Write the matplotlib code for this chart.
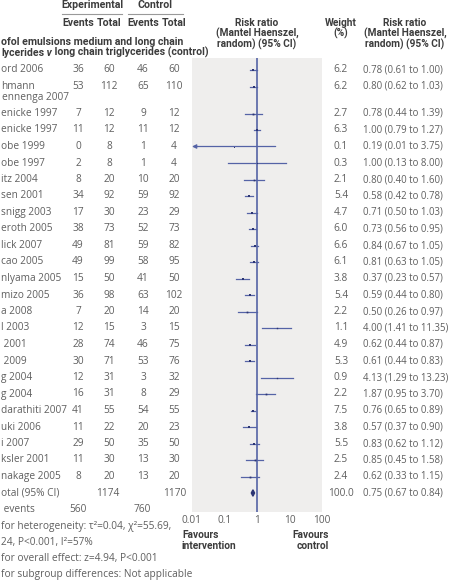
'''Forest plot: propofol emulsions MCT/LCT vs LCT, risk ratio per study.'''
import matplotlib.pyplot as plt
from matplotlib.text import Annotation
import numpy as np

plt.rcParams.update({'font.family': ['Open Sans', 'DejaVu Sans']})
plt.rcParams.update({'font.size': 7.3})

# study labels as visible (left edge of the figure cuts them off)
studies = ['ord 2006', 'hmann\nennenga 2007', 'enicke 1997', 'enicke 1997',
           'obe 1999', 'obe 1997', 'itz 2004', 'sen 2001', 'snigg 2003',
           'eroth 2005', 'lick 2007', 'cao 2005', 'nlyama 2005', 'mizo 2005',
           'a 2008', 'l 2003', ' 2001', ' 2009', 'g 2004', 'g 2004',
           'darathiti 2007', 'uki 2006', 'i 2007', 'ksler 2001', 'nakage 2005']
exp_events = [36, 53, 7, 11, 0, 2, 8, 34, 17, 38, 49, 49, 15, 36, 7, 12, 28,
              30, 12, 16, 41, 11, 29, 11, 8]
exp_total = [60, 112, 12, 12, 8, 8, 20, 92, 30, 73, 81, 99, 50, 98, 20, 15,
             74, 71, 31, 31, 55, 22, 50, 30, 20]
ctl_events = [46, 65, 9, 11, 1, 1, 10, 59, 23, 52, 59, 58, 41, 63, 14, 3, 46,
              53, 3, 8, 54, 20, 35, 13, 13]
ctl_total = [60, 110, 12, 12, 4, 4, 20, 92, 29, 73, 82, 95, 50, 102, 20, 15,
             75, 76, 32, 29, 55, 23, 50, 30, 20]
weight = [6.2, 6.2, 2.7, 6.3, 0.1, 0.3, 2.1, 5.4, 4.7, 6.0, 6.6, 6.1, 3.8,
          5.4, 2.2, 1.1, 4.9, 5.3, 0.9, 2.2, 7.5, 3.8, 5.5, 2.5, 2.4]
rr = [0.78, 0.80, 0.78, 1.00, 0.19, 1.00, 0.80, 0.58, 0.71, 0.73, 0.84, 0.81,
      0.37, 0.59, 0.50, 4.00, 0.62, 0.61, 4.13, 1.87, 0.76, 0.57, 0.83, 0.85,
      0.62]
rr_lo = [0.61, 0.62, 0.44, 0.79, 0.01, 0.13, 0.40, 0.42, 0.50, 0.56, 0.67,
         0.63, 0.23, 0.44, 0.26, 1.41, 0.44, 0.44, 1.29, 0.95, 0.65, 0.37,
         0.62, 0.45, 0.33]
rr_hi = [1.00, 1.03, 1.39, 1.27, 3.75, 8.00, 1.60, 0.78, 1.03, 0.95, 1.05,
         1.05, 0.57, 0.80, 0.97, 11.35, 0.87, 0.83, 13.23, 3.70, 0.89, 0.90,
         1.12, 1.58, 1.15]
total_n = [1174, 1170]
total_events = [560, 760]
total_rr = [0.75, 0.67, 0.84]
ticks = [0.01, 0.1, 1, 10, 100]

W, H = 449, 586
grey = '#5f5f5f'
dark = '#3c3c3c'
blue = '#5563a6'
navy = '#2c3573'
bold_font = ['Roboto', 'DejaVu Sans']
rr_size = 6.95

fig = plt.figure(figsize=(W / 100, H / 100), dpi=100)


def txt(x, y, s, ha='left', bold=False, color=grey, **kw):
    if bold:
        kw.setdefault('family', bold_font)
        kw.setdefault('fontweight', 'bold')
    return fig.text(x / W, 1 - y / H, s, ha=ha, va='center', color=color, **kw)


# row positions (px from top); the two-line entry takes extra space
row_y = []
y = 70.0
for s in studies:
    row_y.append(y)
    y += 27 if '\n' in s else 16.5
total_y = y

# headers
txt(92, 5, 'Experimental', 'center', True, dark, fontsize=7.6)
txt(155, 5, 'Control', 'center', True, dark, fontsize=7.6)
fig.add_artist(plt.Line2D([62 / W, 122 / W], [1 - 14 / H] * 2, color='#999999', lw=0.8))
fig.add_artist(plt.Line2D([128 / W, 183 / W], [1 - 14 / H] * 2, color='#999999', lw=0.8))
for xc, s in zip([78, 109, 143, 174], ['Events', 'Total', 'Events', 'Total']):
    txt(xc, 23.5, s, 'center', True, dark, fontsize=7.6)
txt(1, 42, 'ofol emulsions medium and long chain', bold=True, color=dark, fontsize=7.6)
# second header line, with an italic "v" in the middle
hdr_kw = dict(family=bold_font, fontweight='bold', color=dark, fontsize=7.6,
              va='center', ha='left')
t1 = txt(1, 52.5, 'lycerides', bold=True, color=dark, fontsize=7.6)
t2 = Annotation(' v', xy=(1, 0.5), xycoords=t1, style='italic', **hdr_kw)
fig.add_artist(t2)
t3 = Annotation(' long chain triglycerides (control)', xy=(1, 0.5),
                xycoords=t2, **hdr_kw)
fig.add_artist(t3)
for i, s in enumerate(['Risk ratio', '(Mantel Haenszel,', 'random) (95% CI)']):
    txt(257, 23 + 10.5 * i, s, 'center', True, dark)
    txt(405, 23 + 10.5 * i, s, 'center', True, dark)
txt(341, 23, 'Weight', 'center', True, dark)
txt(341, 33.5, '(%)', 'center', True, dark)

# study rows
for i, s in enumerate(studies):
    yy = row_y[i]
    lines = s.split('\n')
    txt(1, yy, lines[0])
    if len(lines) > 1:
        txt(2, yy + 11, lines[1])
    txt(78, yy, str(exp_events[i]), 'center')
    txt(109, yy, str(exp_total[i]), 'center')
    txt(143, yy, str(ctl_events[i]), 'center')
    txt(174, yy, str(ctl_total[i]), 'center')
    txt(341, yy, f'{weight[i]:.1f}', 'center')
    txt(363, yy, f'{rr[i]:.2f} ({rr_lo[i]:.2f} to {rr_hi[i]:.2f})',
        fontsize=rr_size)

txt(1, total_y, 'otal (95% CI)')
txt(108, total_y, str(total_n[0]), 'center')
txt(175, total_y, str(total_n[1]), 'center')
txt(341, total_y, '100.0', 'center')
txt(363, total_y, f'{total_rr[0]:.2f} ({total_rr[1]:.2f} to {total_rr[2]:.2f})',
    fontsize=rr_size)
txt(1, total_y + 16.5, ' events')
txt(78, total_y + 16.5, str(total_events[0]), 'center')
txt(142, total_y + 16.5, str(total_events[1]), 'center')
txt(1, total_y + 33, 'for heterogeneity: τ²=0.04, χ²=55.69,')
txt(1, total_y + 49.5, '24, P<0.001, I²=57%')
txt(1, total_y + 66, 'for overall effect: z=4.94, P<0.001')
txt(1, total_y + 82, 'for subgroup differences: Not applicable')

# forest panel
ax = fig.add_axes([192 / W, 1 - 512 / H, 130 / W, (512 - 58) / H])
ax.set_facecolor('#efeeed')
ax.set_xscale('log')
ax.set_xlim(ticks[0], ticks[-1])
ax.set_ylim(512, 58)
for sp in ax.spines.values():
    sp.set_visible(False)
ax.set_yticks([])
ax.set_xticks(ticks)
ax.set_xticklabels(['0.01', '0.1', '1', '10', '100'], color=grey)
ax.minorticks_off()
ax.tick_params(axis='x', length=0, pad=2)
ax.axvline(1, color=blue, lw=1.2, zorder=3)

for i in range(len(studies)):
    yy = row_y[i]
    lo = max(rr_lo[i], ticks[0])
    if rr_lo[i] <= ticks[0]:
        ax.annotate('', xy=(lo, yy), xytext=(rr_hi[i], yy),
                    arrowprops=dict(arrowstyle='-|>', color=blue, lw=0.9,
                                    mutation_scale=6, shrinkA=0, shrinkB=0))
    else:
        ax.plot([lo, rr_hi[i]], [yy, yy], color=blue, lw=0.9, zorder=4)
    ax.plot(rr[i], yy, 's', color=navy, ms=0.5 + 0.5 * np.sqrt(weight[i]),
            mew=0, zorder=5)

dy = 3.2
ax.fill([total_rr[1], total_rr[0], total_rr[2], total_rr[0]],
        [total_y, total_y - dy, total_y, total_y + dy], color=navy, zorder=5)

txt(182, 535, 'Favours', bold=True, color=dark)
txt(182, 546, 'intervention', bold=True, color=dark)
txt(329, 535, 'Favours', 'right', True, dark)
txt(329, 546, 'control', 'right', True, dark)

fig.savefig('out.png', dpi=100)
